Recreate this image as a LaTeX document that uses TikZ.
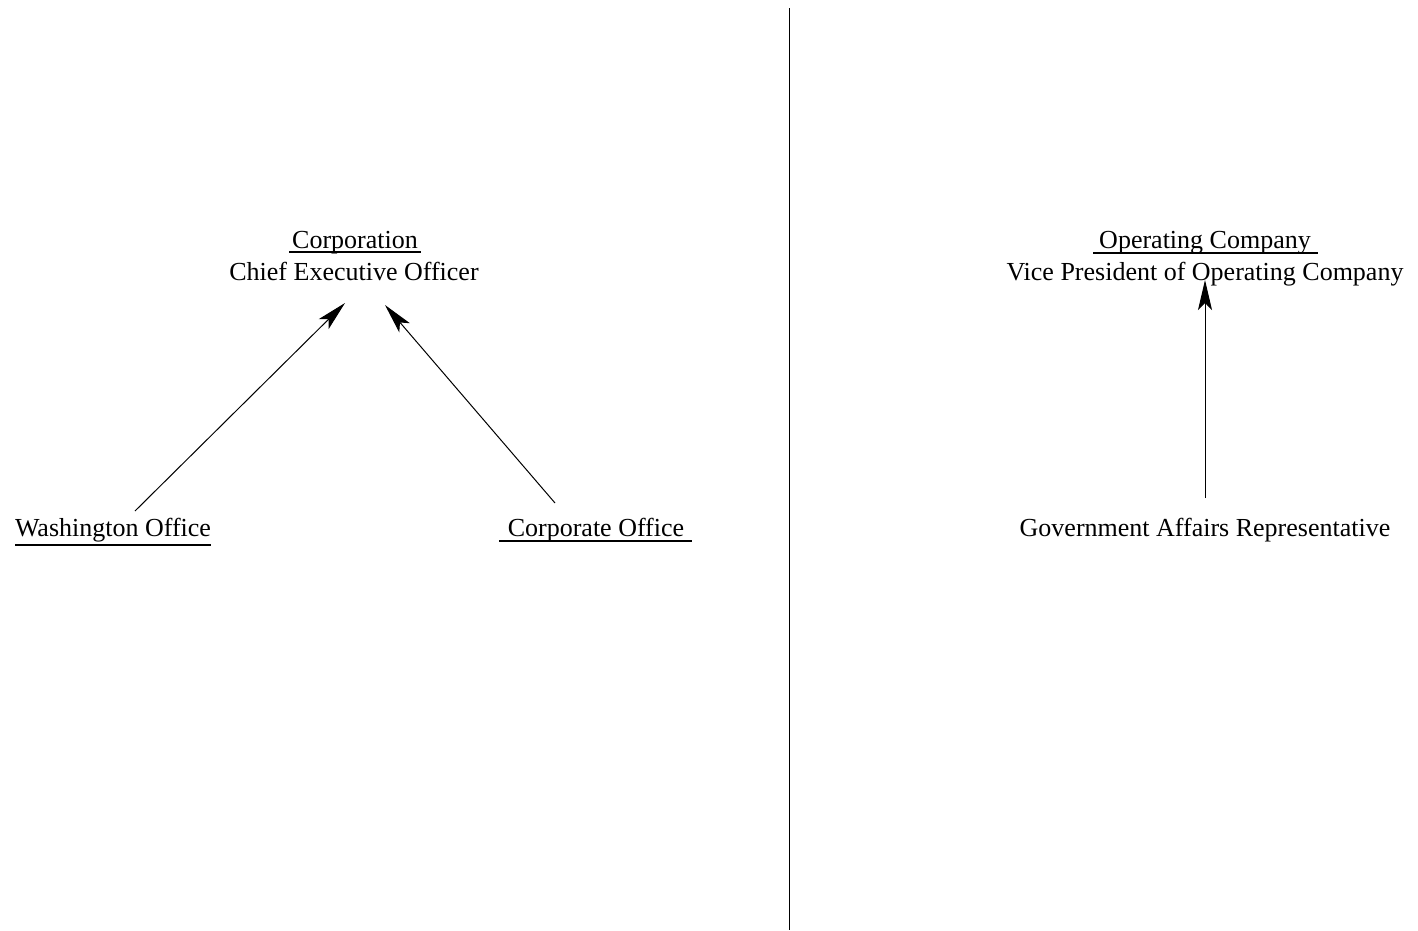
\documentclass[tikz,border=0pt]{standalone}
\usepackage{fontspec}
\setmainfont{Liberation Serif}
\usetikzlibrary{arrows.meta}
\begin{document}
\begin{tikzpicture}[x=1pt,y=-1pt,
  lbl/.style={inner sep=0pt,anchor=base,font=\fontsize{26}{28}\selectfont},
  uline/.style={line width=1.2pt},
  link/.style={line width=1pt,-{Stealth[length=30pt,width=14pt,inset=7pt]}}]
\useasboundingbox (0,0) rectangle (1418,930);

% divider between the two panels
\draw[line width=0.9pt] (789,8) -- (789,930);

% left panel: corporation
\node[lbl] (corp) at (355,248) {Corporation};
\node[lbl] (ceo) at (354,280) {Chief Executive Officer};
\node[lbl] (wash) at (113,536) {Washington Office};
\node[lbl] (cof) at (596,536) {Corporate Office};
\draw[uline] (289,252) -- (421,252);
\draw[uline] (15,545) -- (211,545);
\draw[uline] (499,541) -- (692,541);

\coordinate (w0) at (135,511);
\coordinate (c0) at (555,503);
\coordinate (ceoL) at (345,303);
\coordinate (ceoR) at (385,305);
\draw[link] (w0) -- (ceoL);
\draw[link] (c0) -- (ceoR);

% right panel: operating company
\node[lbl] (opco) at (1205,248) {Operating Company};
\node[lbl] (vp) at (1205,280) {Vice President of Operating Company};
\node[lbl] (gar) at (1205,536) {Government Affairs Representative};
\draw[uline] (1093,253) -- (1318,253);

\coordinate (g0) at (1205,498);
\coordinate (vpB) at (1205,280);
\draw[link] (g0) -- (vpB);
\end{tikzpicture}
\end{document}
